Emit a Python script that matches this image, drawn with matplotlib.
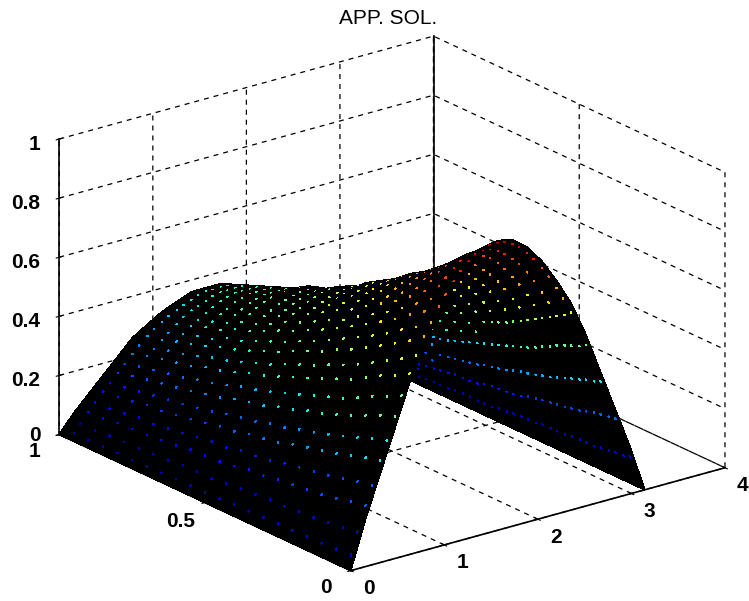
import matplotlib
matplotlib.use('Agg')
import matplotlib.pyplot as plt
import numpy as np
from mpl_toolkits.mplot3d.art3d import Poly3DCollection

x_vals = [0, 0.157, 0.314, 0.471, 0.628, 0.785, 0.942, 1.1, 1.257, 1.414, 1.571,
          1.728, 1.885, 2.042, 2.199, 2.356, 2.513, 2.67, 2.827, 2.985, 3.142]
y_vals = [0, 0.05, 0.1, 0.15, 0.2, 0.25, 0.3, 0.35, 0.4, 0.45, 0.5,
          0.55, 0.6, 0.65, 0.7, 0.75, 0.8, 0.85, 0.9, 0.95, 1]
# heights, one row per y value
z_rows = [
    [0, .16, .30, .44, .58, .70, .79, .87, .93, .97, .98, .97, .93, .87, .79, .70, .58, .44, .30, .16, 0],
    [0, .15, .29, .42, .55, .66, .75, .83, .88, .92, .93, .92, .88, .83, .75, .66, .55, .42, .29, .15, 0],
    [0, .14, .28, .40, .53, .63, .72, .79, .85, .88, .89, .88, .85, .79, .72, .63, .53, .40, .28, .14, 0],
    [0, .13, .26, .38, .50, .60, .68, .75, .80, .83, .84, .83, .80, .75, .68, .60, .50, .38, .26, .13, 0],
    [0, .13, .25, .36, .47, .57, .65, .71, .76, .79, .80, .79, .76, .71, .65, .57, .47, .36, .25, .13, 0],
    [0, .12, .24, .34, .45, .54, .62, .68, .72, .75, .76, .75, .72, .68, .62, .54, .45, .34, .24, .12, 0],
    [0, .12, .23, .33, .43, .52, .59, .65, .69, .72, .73, .72, .69, .65, .59, .52, .43, .33, .23, .12, 0],
    [0, .11, .21, .31, .41, .49, .56, .61, .66, .68, .69, .68, .66, .61, .56, .49, .41, .31, .21, .11, 0],
    [0, .11, .20, .30, .39, .47, .53, .59, .63, .65, .66, .65, .63, .59, .53, .47, .39, .30, .20, .11, 0],
    [0, .10, .20, .28, .37, .45, .51, .56, .60, .62, .63, .62, .60, .56, .51, .45, .37, .28, .20, .10, 0],
    [0, .09, .18, .27, .35, .42, .48, .53, .56, .58, .59, .58, .56, .53, .48, .42, .35, .27, .18, .09, 0],
    [0, .09, .18, .26, .34, .40, .46, .51, .54, .56, .57, .56, .54, .51, .46, .40, .34, .26, .18, .09, 0],
    [0, .09, .17, .24, .32, .38, .44, .48, .51, .53, .54, .53, .51, .48, .44, .38, .32, .24, .17, .09, 0],
    [0, .08, .16, .23, .30, .36, .41, .45, .48, .50, .51, .50, .48, .45, .41, .36, .30, .23, .16, .08, 0],
    [0, .08, .15, .22, .29, .35, .40, .44, .47, .49, .49, .49, .47, .44, .40, .35, .29, .22, .15, .08, 0],
    [0, .07, .14, .21, .27, .33, .37, .41, .44, .46, .46, .46, .44, .41, .37, .33, .27, .21, .14, .07, 0],
    [0, .07, .14, .20, .26, .31, .36, .39, .42, .44, .44, .44, .42, .39, .36, .31, .26, .20, .14, .07, 0],
    [0, .07, .13, .19, .25, .30, .34, .37, .40, .42, .42, .42, .40, .37, .34, .30, .25, .19, .13, .07, 0],
    [0, .06, .12, .18, .24, .28, .32, .36, .38, .40, .40, .40, .38, .36, .32, .28, .24, .18, .12, .06, 0],
    [0, .06, .12, .17, .22, .27, .31, .34, .36, .38, .38, .38, .36, .34, .31, .27, .22, .17, .12, .06, 0],
    [0, .06, .11, .16, .21, .26, .29, .32, .34, .36, .36, .36, .34, .32, .29, .26, .21, .16, .11, .06, 0],
]
x_ticks = [0, 1, 2, 3, 4]
x_tick_labels = ['0', '1', '2', '3', '4']
y_ticks = [0, 0.5, 1]
y_tick_labels = ['0', '0.5', '1']
z_ticks = [0, 0.2, 0.4, 0.6, 0.8, 1]
z_tick_labels = ['0', '0.2', '0.4', '0.6', '0.8', '1']

plt.rcParams['font.family'] = ['Liberation Sans', 'DejaVu Sans']

fig = plt.figure(figsize=(7.49, 6.01), dpi=100)
ax = fig.add_axes([9.5 / 749, -11 / 601, 1, 1], projection='3d', proj_type='ortho')
ax.view_init(elev=21, azim=-127.5)
ax.set_box_aspect((1, 1.015, 0.671), zoom=1.2)

X, Y = np.meshgrid(x_vals, y_vals)
Z = np.array(z_rows)
jet = matplotlib.colormaps['jet']

# black cells, with small coloured specks left showing inside each one
polys = []
face = []
for i in range(Z.shape[0] - 1):
    for j in range(Z.shape[1] - 1):
        ii = [i, i, i + 1, i + 1]
        jj = [j, j + 1, j + 1, j]
        cell = np.column_stack((X[ii, jj], Y[ii, jj], Z[ii, jj]))
        mid = cell.mean(axis=0)
        polys.append(cell)
        face.append((0, 0, 0, 1))
        for corner in cell:
            spot = mid + 0.45 * (corner - mid)
            polys.append(spot + 0.03 * (cell - mid))
            face.append(jet(mid[2]))

surf = Poly3DCollection(polys, facecolors=face, edgecolors=face, linewidths=0.5, zsort='average')
surf.set_antialiased(False)
surf.set_clip_on(False)
ax.add_collection3d(surf)

ax.set_xlim(0, 4, view_margin=0)
ax.set_ylim(0, 1, view_margin=0)
ax.set_zlim(0, 1, view_margin=0)
ax.set_xticks(x_ticks)
ax.set_yticks(y_ticks)
ax.set_zticks(z_ticks)

for axis in (ax.xaxis, ax.yaxis, ax.zaxis):
    axis.set_pane_color((1, 1, 1, 1))
    axis.pane.set_edgecolor((1, 1, 1, 0))
    axis.line.set_color('k')
    axis.line.set_linewidth(1.2)
    axis._axinfo['grid'].update(color='k', linestyle=(0, (4, 4)), linewidth=0.9)
    axis._axinfo['tick'].update(inward_factor=0.1, outward_factor=0.1)
    axis.label.set_visible(False)
    axis.offsetText.set_visible(False)
    for tick in axis.get_major_ticks():
        tick.label1.set_visible(False)
        tick.label2.set_visible(False)

# the 3d axis will not put its labels where they were, so place them by hand
font = dict(fontsize=15, fontweight='bold', va='center')
for t, lab in zip(x_ticks, x_tick_labels):
    ax.text(t + 0.19, 0, -0.077, lab, ha='center', **font)
for t, lab in zip(y_ticks, y_tick_labels):
    ax.text(-0.265, t, -0.04 if t == 0.5 else -0.035, lab, ha='center', **font)
for t, lab in zip(z_ticks, z_tick_labels):
    ax.text(-0.2, 1, t + 0.015 if t == 0 else t, lab, ha='right', **font)

ax.plot([4, 4], [1, 1], [0, 1], color='k', lw=1.2)

fig.text(388 / 749, 1 - 18 / 601, 'APP. SOL.', ha='center', va='center', fontsize=15)
fig.savefig('out.png', dpi=100)
